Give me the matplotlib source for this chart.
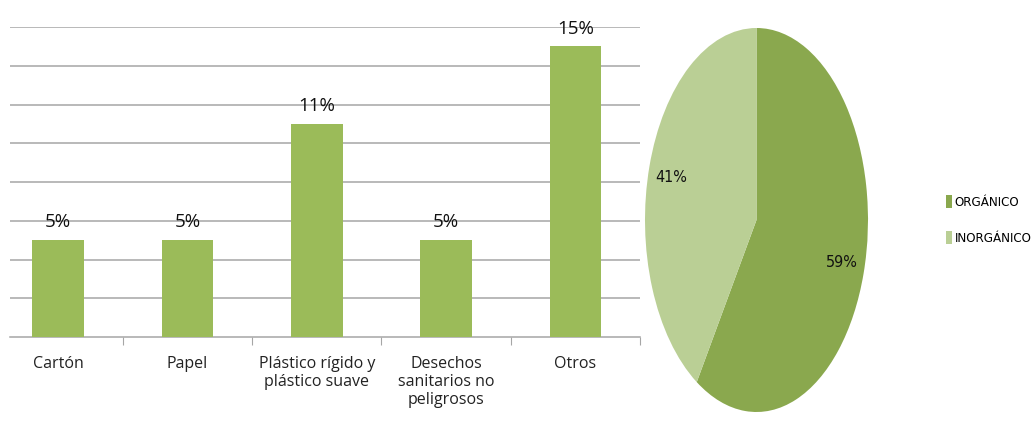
import matplotlib.pyplot as plt
import numpy as np

# datos
categorias = ['Cartón', 'Papel', 'Plástico rígido y\nplástico suave',
              'Desechos\nsanitarios no\npeligrosos', 'Otros']
valores = [5, 5, 11, 5, 15]
etiquetas = ['5%', '5%', '11%', '5%', '15%']

tipos = ['ORGÁNICO', 'INORGÁNICO']
porcentajes = [59, 41]

W, H = 1035, 421
fig = plt.figure(figsize=(W/100, H/100), dpi=100)

def box(x0, y0, x1, y1):
    return [x0/W, 1 - y1/H, (x1-x0)/W, (y1-y0)/H]

# barras
ax = fig.add_axes(box(10, 27, 640, 337))
x = np.arange(len(categorias))
ax.bar(x, valores, width=0.4, color='#9bbb59', zorder=3)
ax.set_ylim(0, 16)
ax.set_xlim(-0.373, 4.5)
ax.set_yticks(np.arange(2, 17, 2))
ax.yaxis.grid(True, color='#a6a6a6', linewidth=1.1, zorder=0)
ax.tick_params(axis='y', length=0, labelleft=False)
for s in ['top', 'right', 'left']:
    ax.spines[s].set_visible(False)
ax.spines['bottom'].set_color('#a6a6a6')
ax.spines['bottom'].set_linewidth(1.1)
ax.set_xticks(np.arange(0.5, 5, 1))
ax.set_xticklabels([])
ax.tick_params(axis='x', length=6, color='#a6a6a6', direction='out')
for i, c in enumerate(categorias):
    ax.text(i, -1.0, c, ha='center', va='top', fontsize=11.5,
            family='Open Sans', color='#222222', linespacing=1.15)
for i, v in enumerate(valores):
    ax.text(i, v + 0.45, etiquetas[i], ha='center', va='bottom',
            fontsize=13.5, family='Open Sans', color='#111111')

# pastel
estrecha = {'family': 'DejaVu Sans', 'stretch': 'condensed'}
ax2 = fig.add_axes(box(645, 28, 868, 412))
cuñas, textos, pct = ax2.pie(porcentajes, startangle=90, counterclock=False,
                             colors=['#8aa84e', '#bacf95'],
                             autopct=lambda p: f'{round(p)}%', pctdistance=0.8,
                             textprops=dict(fontsize=11.5, color='#111111', **estrecha))
ax2.set_aspect('auto')
ax2.set_xlim(-1, 1)
ax2.set_ylim(-1, 1)

fig.legend(cuñas, tipos, loc='center left', bbox_to_anchor=(937/W, 1 - 220/H),
           frameon=False, handlelength=0.45, handleheight=1.1,
           handletextpad=0.2, labelspacing=1.7, borderpad=0.2,
           prop=dict(size=9.5, **estrecha))

fig.savefig('out.png', dpi=100)
